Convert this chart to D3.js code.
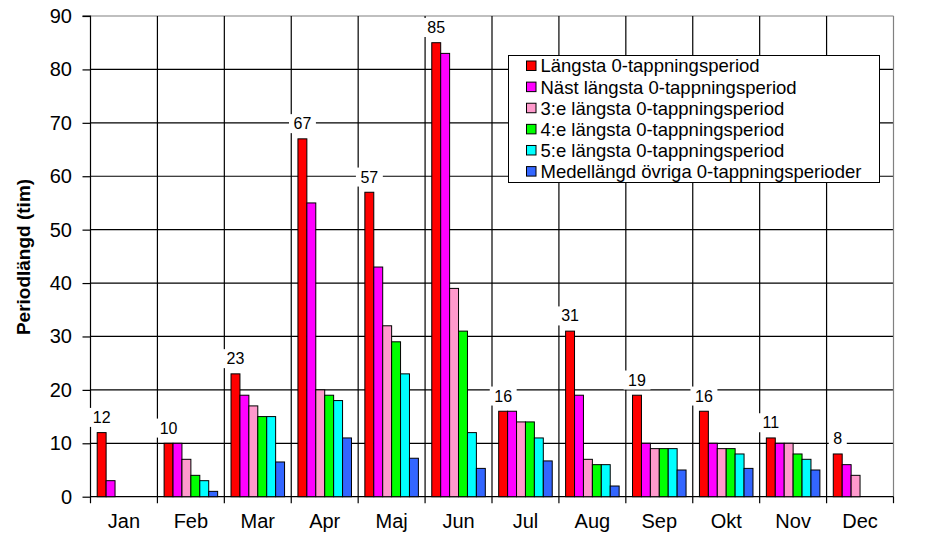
<!DOCTYPE html>
<html><head><meta charset="utf-8">
<script src="https://cdn.jsdelivr.net/npm/d3@7"></script>
<style>
html,body{margin:0;padding:0;background:#fff;}
text{font-family:"Liberation Sans",Arial,sans-serif;fill:#000;}
</style></head>
<body>
<svg id="chart" width="925" height="539"></svg>
<script>
const months = ["Jan","Feb","Mar","Apr","Maj","Jun","Jul","Aug","Sep","Okt","Nov","Dec"];
const seriesNames = ["Längsta 0-tappningsperiod","Näst längsta 0-tappningsperiod","3:e längsta 0-tappningsperiod","4:e längsta 0-tappningsperiod","5:e längsta 0-tappningsperiod","Medellängd övriga 0-tappningsperioder"];
const longest  = [12,10,23,67,57,85,16,31,19,16,11,8];
const second   = [3,10,19,55,43,83,16,19,10,10,10,6];
const third    = [0,7,17,20,32,39,14,7,9,9,10,4];
const fourth   = [0,4,15,19,29,31,14,6,9,9,8,0];
const fifth    = [0,3,15,18,23,12,11,6,9,8,7,0];
const avgOther = [0,1,6.5,11,7.2,5.3,6.7,2,5,5.3,5,0];
const yTicks = [0,10,20,30,40,50,60,70,80,90];
const colors = ["#FF0000","#FF00FF","#FF99CC","#00FF00","#00FFFF","#3366FF"];

const series = [longest, second, third, fourth, fifth, avgOther];

const svg = d3.select("#chart");
const L = 90.5, R = 893.5, T = 16, B = 496.7;

const x0 = d3.scaleBand().domain(months).range([L, R]).padding(0);
const x1 = d3.scaleBand().domain(d3.range(series.length)).range([0, x0.bandwidth()]).paddingInner(0).paddingOuter(0.75);
const y = d3.scaleLinear().domain([0, 90]).range([B, T]);

// horizontal gridlines
const g = svg.append("g");
g.selectAll("line.h").data(yTicks.filter(v => v > 0 && v < 90)).join("line")
  .attr("x1", L).attr("x2", R).attr("y1", d => y(d)).attr("y2", d => y(d))
  .attr("stroke", "#000").attr("stroke-width", 1.2);
// border top/right gray
g.append("line").attr("x1", L).attr("x2", R).attr("y1", y(90)).attr("y2", y(90)).attr("stroke", "#808080").attr("stroke-width", 1.2);
g.append("line").attr("x1", R).attr("x2", R).attr("y1", y(90)).attr("y2", B).attr("stroke", "#808080").attr("stroke-width", 1.2);

// vertical gridlines at category boundaries
const bounds = months.map(m => x0(m)).slice(1);
g.selectAll("line.v").data(bounds).join("line")
  .attr("x1", d => d).attr("x2", d => d).attr("y1", T).attr("y2", B + 6.5)
  .attr("stroke", "#000").attr("stroke-width", 1.2);
g.append("line").attr("x1", R).attr("x2", R).attr("y1", B).attr("y2", B + 6.5).attr("stroke", "#000").attr("stroke-width", 1.2);

// y axis
const yAxis = d3.axisLeft(y).tickValues(yTicks).tickSize(8).tickPadding(10);
const ya = svg.append("g").attr("transform", `translate(${L},0)`).call(yAxis);
ya.select(".domain").attr("stroke", "#000").attr("stroke-width", 1.2).attr("d", `M-8,${T}H0V${B + 6.5}`);
ya.selectAll(".tick line").attr("stroke", "#000").attr("stroke-width", 1.2);
ya.selectAll(".tick text").attr("font-size", "20px").attr("font-family", "'Liberation Sans',Arial,sans-serif").attr("fill", "#000").attr("x", -18.5);

// x axis line
svg.append("line").attr("x1", L).attr("x2", R).attr("y1", B).attr("y2", B).attr("stroke", "#000").attr("stroke-width", 1.2);

// x labels
const xAxis = d3.axisBottom(x0).tickSize(0).tickPadding(0);
const xa = svg.append("g").attr("transform", `translate(0,${B})`).call(xAxis);
xa.select(".domain").remove();
xa.selectAll(".tick text").attr("font-size", "20px").attr("font-family", "'Liberation Sans',Arial,sans-serif").attr("fill", "#000").attr("dy", null).attr("y", 31.5);

// bars
const bars = svg.append("g");
months.forEach((m, i) => {
  series.forEach((s, k) => {
    if (s[i] <= 0) return;
    bars.append("rect")
      .attr("x", x0(m) + x1(k))
      .attr("y", y(s[i]))
      .attr("width", x1.bandwidth())
      .attr("height", B - y(s[i]))
      .attr("fill", colors[k])
      .attr("stroke", "#000").attr("stroke-width", 1);
  });
});

// value labels for longest series
const labels = svg.append("g");
months.forEach((m, i) => {
  const cx = x0(m) + x1(0) + x1.bandwidth() / 2;
  const by = y(longest[i]) - 9.7;
  const t = labels.append("text").attr("x", cx).attr("y", by)
    .attr("text-anchor", "middle").attr("font-size", "16px").text(longest[i]);
  const bb = t.node().getBBox();
  labels.insert("rect", "text").attr("x", bb.x - 4.5).attr("y", bb.y - 1).attr("width", bb.width + 9).attr("height", bb.height + 2).attr("fill", "#fff");
});

// y title
svg.append("text").attr("transform", "translate(30,257) rotate(-90)")
  .attr("text-anchor", "middle").attr("font-size", "19px").attr("font-weight", "bold").text("Periodlängd (tim)");

// legend
const lg = svg.append("g");
lg.append("rect").attr("x", 508.5).attr("y", 55.5).attr("width", 371).attr("height", 127)
  .attr("fill", "#fff").attr("stroke", "#000").attr("stroke-width", 1);
const rowY = d3.scaleLinear().domain([0, 5]).range([66, 171.6]);
seriesNames.forEach((n, k) => {
  const cy = rowY(k);
  lg.append("rect").attr("x", 526.5).attr("y", cy - 5).attr("width", 9.5).attr("height", 9.5)
    .attr("fill", colors[k]).attr("stroke", "#000").attr("stroke-width", 1);
  lg.append("text").attr("x", 540.5).attr("y", cy).attr("dy", "0.35em").attr("font-size", "18.5px").text(n);
});
</script>
</body></html>
